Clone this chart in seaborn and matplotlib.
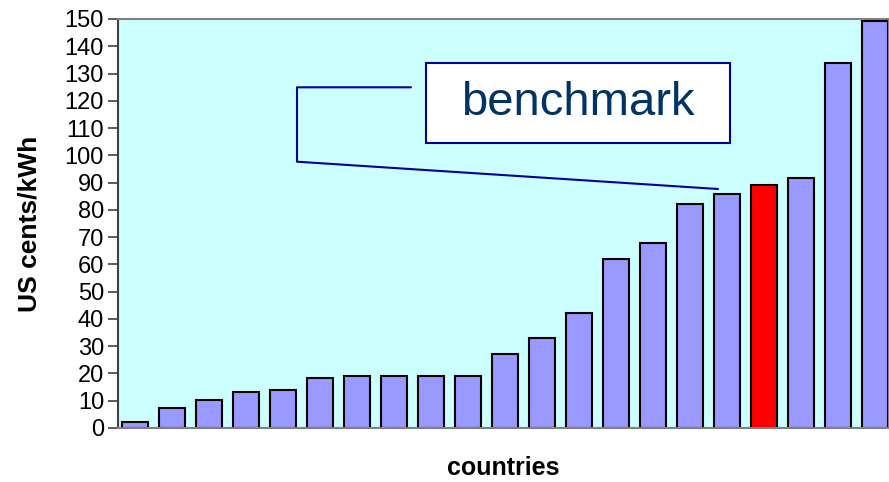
import matplotlib
matplotlib.use("Agg")
import matplotlib.pyplot as plt
import seaborn as sns
import pandas as pd
from matplotlib.patches import Rectangle

countries = [f"C{i+1}" for i in range(21)]
values = [2.2, 7.3, 10.3, 13.2, 14.0, 18.3, 19.0, 19.0, 19.0, 19.0,
          27.0, 33.0, 42.0, 62.0, 68.0, 82.3, 86.0, 89.2, 91.7, 134.0, 149.3]
benchmark_index = 17
yticks = list(range(0, 151, 10))

sns.set_theme(style="white")
plt.rcParams['font.family'] = ['Liberation Sans', 'DejaVu Sans']
plt.rcParams['text.color'] = 'black'
plt.rcParams['axes.labelcolor'] = 'black'
plt.rcParams['ytick.color'] = 'black'

df = pd.DataFrame({"country": countries, "value": values})
palette = ["#FF0000" if i == benchmark_index else "#9999FF" for i in range(len(countries))]

fig = plt.figure(figsize=(8.89, 4.82), dpi=100)
ax = fig.add_axes([118/889, 54/482, 771/889, 409/482])
ax.set_facecolor("#CCFFFF")

sns.barplot(data=df, x="country", y="value", hue="country", palette=palette,
            legend=False, width=0.68, edgecolor="black", linewidth=1.5,
            saturation=1, ax=ax)

ax.set_ylim(0, 150)
ax.set_xlim(-0.46, 20.38)
ax.set_yticks(yticks)
ax.set_yticklabels([str(t) for t in yticks], fontsize=17, color="black")
ax.set_xticks([])
ax.tick_params(axis="y", direction="out", length=7, width=1.2, color="#404040", pad=3, left=True)
ax.set_ylabel("US cents/kWh", fontsize=19, fontweight="bold", labelpad=17, color="black")
ax.set_xlabel("countries", fontsize=18, fontweight="bold", labelpad=20, color="black")

for side in ["top", "bottom", "right"]:
    ax.spines[side].set_color("#808080")
    ax.spines[side].set_linewidth(1.5)
ax.spines["left"].set_color("#404040")
ax.spines["left"].set_linewidth(1.5)

def fx(px):
    return (px - 118) / 771

def fy(py):
    return (428 - py) / 409

# connector line
xs = [fx(411), fx(297), fx(297), fx(718)]
ys = [fy(87.3), fy(87.3), fy(161.7), fy(189)]
ax.plot(xs, ys, transform=ax.transAxes, color="#000099", linewidth=1.5, zorder=5)

# benchmark box
ax.add_patch(Rectangle((fx(426), fy(143)), fx(730) - fx(426), fy(63) - fy(143),
                       transform=ax.transAxes, facecolor="white", edgecolor="#000099",
                       linewidth=1.5, zorder=6))
ax.text(fx(578), fy(103), "benchmark", transform=ax.transAxes, ha="center", va="center",
        fontsize=34, color="#003366", zorder=7)

fig.savefig("out.png", dpi=100)
